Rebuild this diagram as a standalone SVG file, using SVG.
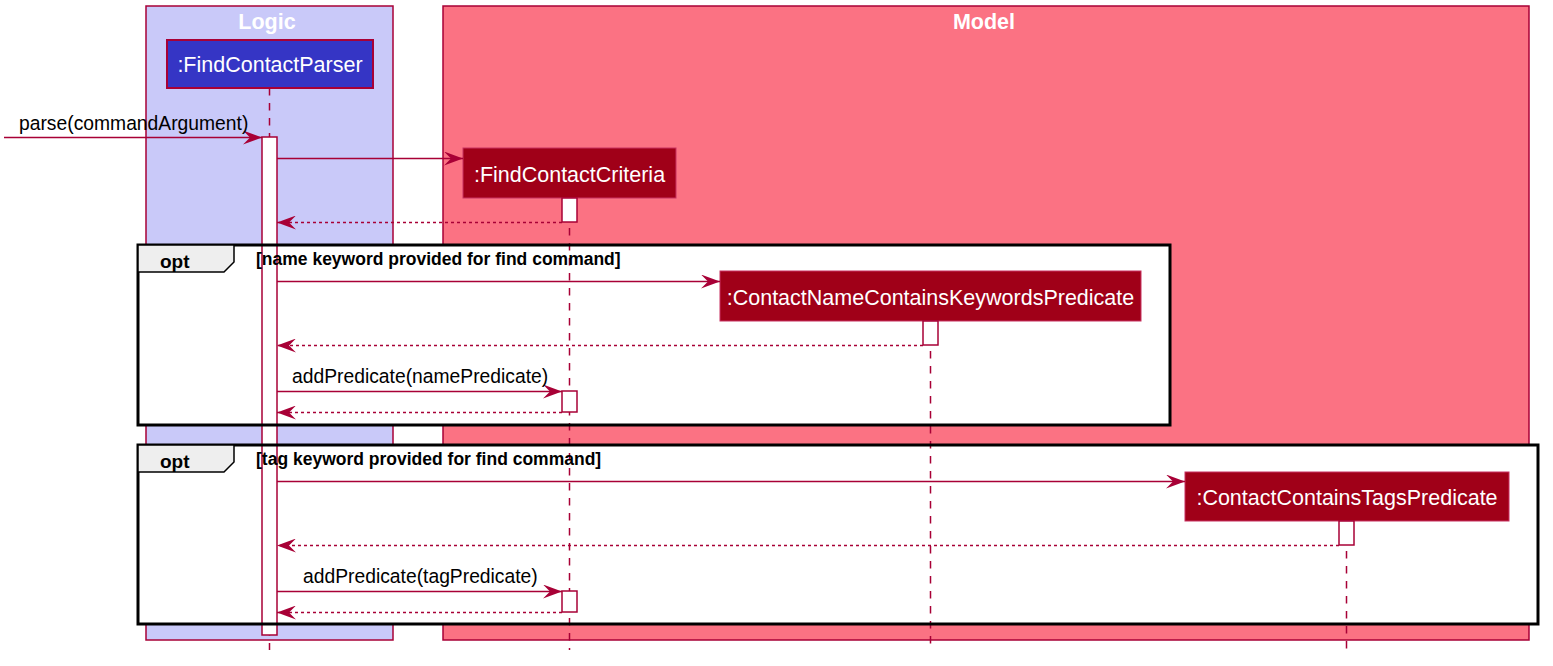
<svg xmlns="http://www.w3.org/2000/svg" width="1553" height="666" viewBox="0 0 1553 666">
<style>
.box{stroke:#A80036;stroke-width:1.5}
.title{font-family:"Liberation Sans",Arial,sans-serif;font-weight:bold;font-size:21.5px;fill:#FFFFFF;text-anchor:middle}
.pname{font-family:"Liberation Sans",Arial,sans-serif;font-size:21.5px;fill:#FFFFFF;text-anchor:middle}
.msg{font-family:"Liberation Sans",Arial,sans-serif;font-size:19.3px;fill:#000000}
.life{stroke:#A80036;stroke-width:1.5;stroke-dasharray:7.5,7.5;fill:none}
.act{fill:#FFFFFF;stroke:#A80036;stroke-width:1.5}
.call{stroke:#A80036;stroke-width:1.5;fill:none;marker-end:url(#ah)}
.ret{stroke:#A80036;stroke-width:1.5;stroke-dasharray:3,3;fill:none;marker-end:url(#ah)}
.frame{fill:none;stroke:#000000;stroke-width:3}
.tab{fill:#EEEEEE;stroke:#000000;stroke-width:1.5}
.optl{font-family:"Liberation Sans",Arial,sans-serif;font-weight:bold;font-size:19px;fill:#000000}
.cond{font-family:"Liberation Sans",Arial,sans-serif;font-weight:bold;font-size:17.5px;fill:#000000}
</style>
<defs>
<marker id="ah" markerUnits="userSpaceOnUse" viewBox="0 0 19 14" refX="19" refY="7" markerWidth="19" markerHeight="14" orient="auto">
<polygon points="0,0 19,7 0,14 7,7" fill="#A80036"/>
</marker>
</defs>
<rect width="1553" height="666" fill="#FFFFFF"/>
<g id="box-logic">
<rect class="box" x="146" y="6" width="247" height="634" fill="#C9C9F9"/>
<text class="title" x="267" y="29">Logic</text>
</g>
<g id="box-model">
<rect class="box" x="443" y="6" width="1086" height="634" fill="#FB7283"/>
<text class="title" x="984" y="29">Model</text>
</g>
<g id="frame-opt1">
<rect x="138" y="245" width="1032" height="180" fill="#FFFFFF" stroke="none"/>
</g>
<g id="frame-opt2">
<rect x="138" y="445" width="1400" height="179" fill="#FFFFFF" stroke="none"/>
</g>
<g id="lifelines">
<line class="life" x1="269.5" y1="88" x2="269.5" y2="650"/>
<line class="life" x1="569.5" y1="198" x2="569.5" y2="650"/>
<line class="life" x1="930.5" y1="321" x2="930.5" y2="650"/>
<line class="life" x1="1346.5" y1="521" x2="1346.5" y2="650"/>
</g>
<g id="FindContactParser">
<rect x="167" y="40" width="206" height="48" fill="#3535C5" stroke="#A80036" stroke-width="2"/>
<text class="pname" x="270" y="72">:FindContactParser</text>
<rect class="act" x="262" y="137" width="15" height="498"/>
</g>
<g id="FindContactCriteria">
<rect x="463" y="148" width="213" height="50" fill="#A00018" stroke="#C83060" stroke-width="1"/>
<text class="pname" x="569.5" y="182">:FindContactCriteria</text>
<rect class="act" x="562" y="198" width="15" height="24"/>
<rect class="act" x="562" y="391" width="15" height="21"/>
<rect class="act" x="562" y="591" width="15" height="21"/>
</g>
<g id="ContactNameContainsKeywordsPredicate">
<rect x="720" y="271" width="421" height="50" fill="#A00018" stroke="#C83060" stroke-width="1"/>
<text class="pname" x="930.5" y="305">:ContactNameContainsKeywordsPredicate</text>
<rect class="act" x="923" y="321" width="15" height="24"/>
</g>
<g id="ContactContainsTagsPredicate">
<rect x="1185" y="472" width="324" height="49" fill="#A00018" stroke="#C83060" stroke-width="1"/>
<text class="pname" x="1347" y="505">:ContactContainsTagsPredicate</text>
<rect class="act" x="1339" y="521" width="15" height="24"/>
</g>
<g id="connectors">
<line class="call" x1="4" y1="137.5" x2="262" y2="137.5"/>
<text class="msg" x="19" y="130">parse(commandArgument)</text>
<line class="call" x1="277" y1="158.5" x2="463" y2="158.5"/>
<line class="ret" x1="562" y1="222.5" x2="277" y2="222.5"/>
<line class="call" x1="277" y1="281.5" x2="720" y2="281.5"/>
<line class="ret" x1="923" y1="345.5" x2="277" y2="345.5"/>
<line class="call" x1="277" y1="391.5" x2="562" y2="391.5"/>
<text class="msg" x="292" y="383">addPredicate(namePredicate)</text>
<line class="ret" x1="562" y1="412.5" x2="277" y2="412.5"/>
<line class="call" x1="277" y1="481.5" x2="1185" y2="481.5"/>
<line class="ret" x1="1339" y1="545.5" x2="277" y2="545.5"/>
<line class="call" x1="277" y1="591.5" x2="562" y2="591.5"/>
<text class="msg" x="303" y="583">addPredicate(tagPredicate)</text>
<line class="ret" x1="562" y1="612.5" x2="277" y2="612.5"/>
</g>
<g id="opt1">
<rect class="frame" x="138" y="245" width="1032" height="180"/>
<polygon class="tab" points="138,245 234,245 234,262 224,272 138,272"/>
<text class="optl" x="160" y="268">opt</text>
<text class="cond" x="256" y="265">[name keyword provided for find command]</text>
</g>
<g id="opt2">
<rect class="frame" x="138" y="445" width="1400" height="179"/>
<polygon class="tab" points="138,445 234,445 234,462 224,472 138,472"/>
<text class="optl" x="160" y="468">opt</text>
<text class="cond" x="256" y="465">[tag keyword provided for find command]</text>
</g>
</svg>
